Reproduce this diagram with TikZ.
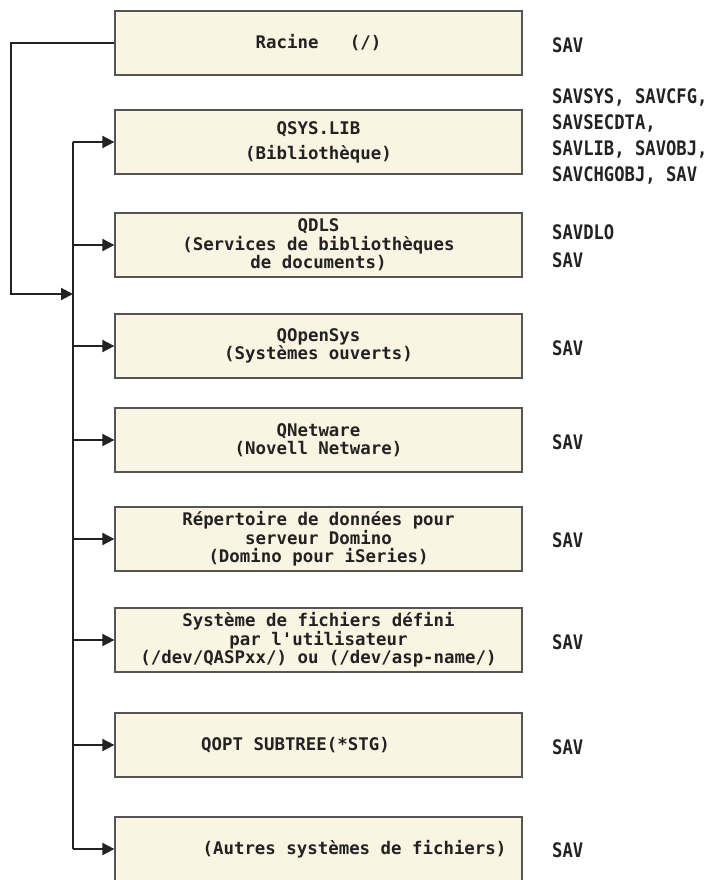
\documentclass[tikz,border=0pt]{standalone}
\usepackage{fontspec}
\setmonofont{DejaVu Sans Mono}
\newfontfamily\cmdfamily{DejaVu Sans Mono}[FakeStretch=0.86]
\usetikzlibrary{arrows.meta}
\definecolor{boxfill}{RGB}{250,244,226}
\definecolor{boxline}{RGB}{85,85,85}
\definecolor{inkcol}{RGB}{34,34,34}
\newcommand{\boxfont}{\ttfamily\bfseries\fontsize{17.4}{18.5}\selectfont}
\newcommand{\cmdfont}{\cmdfamily\bfseries\fontsize{20}{25.7}\selectfont}
\tikzset{
  fsbox/.style={draw=boxline, line width=1.3pt, fill=boxfill,
    minimum width=407pt, minimum height=64pt, inner sep=0pt,
    align=center, text=inkcol, font=\boxfont},
  cmdlabel/.style={anchor=west, align=left, inner sep=0pt,
    text=inkcol, font=\cmdfont},
  link/.style={draw=inkcol, line width=2pt},
  tip/.style={-{Triangle[length=12pt,width=12pt]}}
}
\begin{document}
\begin{tikzpicture}[x=1pt,y=-1pt]
    \useasboundingbox (0,0) rectangle (710,880);
    % the root box
    \node[fsbox] (racine) at (318.5,43) {\raisebox{-3pt}{Racine\ \ \ (/)}};
    % the file systems below the root
    \node[fsbox] (qsys)     at (318.5,142) {QSYS.LIB\\[6.5pt](Bibliothèque)};
    \node[fsbox] (qdls)     at (318.5,245) {QDLS\\(Services de bibliothèques\\de documents)};
    \node[fsbox] (qopensys) at (318.5,346) {QOpenSys\\(Systèmes ouverts)};
    \node[fsbox] (qnetware) at (318.5,440) {QNetware\\(Novell Netware)};
    \node[fsbox] (domino)   at (318.5,539) {Répertoire de données pour\\serveur Domino\\(Domino pour iSeries)};
    \node[fsbox] (udfs)     at (318.5,640) {Système de fichiers défini\\par l'utilisateur\\(/dev/QASPxx/) ou (/dev/asp-name/)};
    \node[fsbox] (qopt)     at (318.5,745) {QOPT SUBTREE(*STG)\hspace*{46pt}};
    \node[fsbox] (autres)   at (318.5,849) {\hspace*{72pt}(Autres systèmes de fichiers)};
    % the save commands on the right
    \node[cmdlabel] (savracine)   at (552,45)    {SAV};
    \node[cmdlabel] (savqsys)     at (552,136.5) {SAVSYS, SAVCFG,\\SAVSECDTA,\\SAVLIB, SAVOBJ,\\SAVCHGOBJ, SAV};
    \node[cmdlabel] (savqdls)     at (552,246)   {SAVDLO\\[2.3pt]SAV};
    \node[cmdlabel] (savqopensys) at (552,348)   {SAV};
    \node[cmdlabel] (savqnetware) at (552,442)   {SAV};
    \node[cmdlabel] (savdomino)   at (552,540)   {SAV};
    \node[cmdlabel] (savudfs)     at (552,642)   {SAV};
    \node[cmdlabel] (savqopt)     at (552,747)   {SAV};
    \node[cmdlabel] (savautres)   at (552,850)   {SAV};
    % the bus and its arrows
    \coordinate (busin)    at (73,294);
    \coordinate (rootbend) at (11,294);
    \draw[link] (qsys.west -| busin) -- (autres.west -| busin);
    \foreach \fs in {qsys,qdls,qopensys,qnetware,domino,udfs,qopt,autres}
        \draw[link,tip] (\fs.west -| busin) -- (\fs.west);
    \draw[link,tip] (racine.west) -| (rootbend) -- (busin);
\end{tikzpicture}
\end{document}
